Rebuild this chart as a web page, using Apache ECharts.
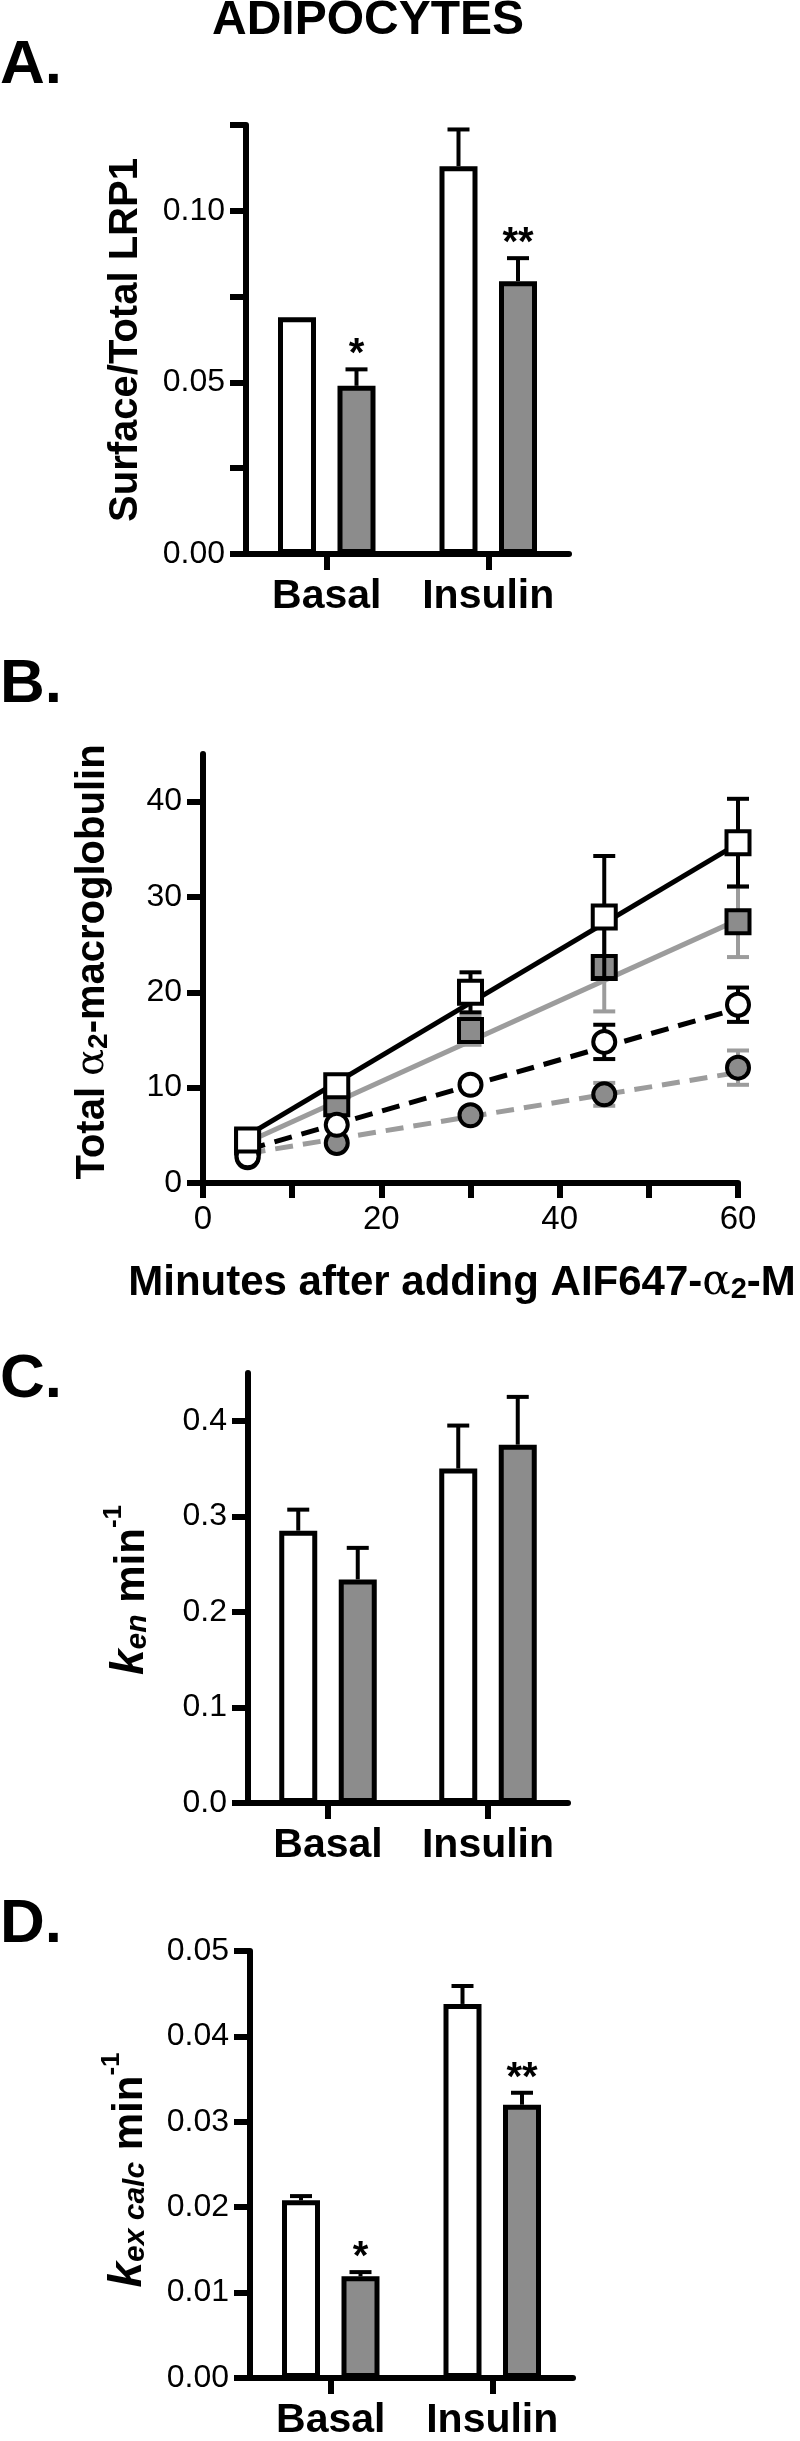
<!DOCTYPE html>
<html><head><meta charset="utf-8">
<script src="https://cdn.jsdelivr.net/npm/echarts@6/dist/echarts.min.js"></script>
<style>html,body{margin:0;padding:0;background:#fff}#c{width:800px;height:2441px}</style>
</head><body><div id="c"></div>
<script>
// ---------- DATA ----------
const categories = ['Basal', 'Insulin'];

// Panel A: Surface/Total LRP1
const aControl = [0.069, 0.113];
const aControlErr = [0, 0.0107];
const aTreated = [0.0490, 0.0795];
const aTreatedErr = [0.0048, 0.0067];
const aStars = ['*', '**'];
const aTicks = [0, 0.025, 0.05, 0.075, 0.1, 0.125];
const aLabels = [0, 0.05, 0.1];

// Panel B: Total alpha2-macroglobulin vs minutes
const minutes = [5, 15, 30, 45, 60];
const insCtrl = [4.5, 10.2, 20.0, 27.9, 35.7];
const insCtrlErr = [0.5, 0.6, 2.1, 6.4, 4.6];
const insTreat = [4.3, 8.3, 16.0, 22.6, 27.4];
const insTreatErr = [0.5, 0.8, 1.5, 4.6, 3.7];
const basCtrl = [2.8, 6.1, 10.3, 14.8, 18.7];
const basCtrlErr = [0.3, 0.4, 0.5, 1.8, 1.8];
const basTreat = [2.7, 4.2, 7.1, 9.3, 12.1];
const basTreatErr = [0.3, 0.3, 0.4, 1.2, 1.8];
const fitInsCtrl = [[5, 5.0], [60, 35.6]];
const fitInsTreat = [[5, 4.3], [60, 27.6]];
const fitBasCtrl = [[5, 3.5], [60, 18.3]];
const fitBasTreat = [[5, 3.1], [60, 11.6]];
const bYTicks = [0, 10, 20, 30, 40];
const bXTicks = [0, 10, 20, 30, 40, 50, 60];
const bXLabels = [0, 20, 40, 60];

// Panel C: k_en
const cControl = [0.285, 0.350];
const cControlErr = [0.022, 0.045];
const cTreated = [0.234, 0.375];
const cTreatedErr = [0.033, 0.050];
const cTicks = [0, 0.1, 0.2, 0.3, 0.4];

// Panel D: k_ex calc
const dControl = [0.0208, 0.0438];
const dControlErr = [0.0005, 0.0021];
const dTreated = [0.0119, 0.0320];
const dTreatedErr = [0.0005, 0.0014];
const dStars = ['*', '**'];
const dTicks = [0, 0.01, 0.02, 0.03, 0.04, 0.05];

// ---------- STYLE ----------
const FONT = "'Liberation Sans', Arial, Helvetica, sans-serif";
const GRAY_FILL = '#8c8c8c';
const GRAY_LINE = '#9c9c9c';
const BAR_W = 38, BAR_GAP_PX = 21.5;
const BAR_OFFSET = (BAR_W + BAR_GAP_PX) / 2;
const AXW = 6;

const chart = echarts.init(document.getElementById('c'), null, {renderer: 'canvas'});

function yAxisCfg(gi, max, ticks, labels, fmt) {
  return {
    gridIndex: gi, type: 'value', min: 0, max: max,
    axisLine: {show: true, onZero: false, lineStyle: {color: '#000', width: AXW}},
    axisTick: {show: true, length: 16, customValues: ticks, lineStyle: {color: '#000', width: AXW}},
    axisLabel: {show: true, margin: 21, customValues: labels, formatter: fmt,
      color: '#000', fontFamily: FONT, fontSize: 32},
    splitLine: {show: false}
  };
}
function catAxisCfg(gi) {
  return {
    gridIndex: gi, type: 'category', data: categories,
    axisLine: {show: true, onZero: false, lineStyle: {color: '#000', width: AXW}},
    axisTick: {show: true, interval: 0, alignWithLabel: true, length: 16, lineStyle: {color: '#000', width: AXW}},
    axisLabel: {interval: 0, hideOverlap: false, margin: 22, color: '#000', fontFamily: FONT, fontSize: 41, fontWeight: 'bold'},
    splitLine: {show: false}
  };
}
function barSeries(gi, data, fill) {
  return {type: 'bar', xAxisIndex: gi, yAxisIndex: gi, data: data, barWidth: BAR_W,
    barGap: (BAR_GAP_PX / BAR_W * 100) + '%',
    itemStyle: {color: fill, borderColor: '#000', borderWidth: 5}, z: 2, animation: false};
}
function barErrSeries(gi, means, errs, side, stars) {
  return {
    type: 'custom', xAxisIndex: gi, yAxisIndex: gi, z: 4, animation: false,
    data: means.map((m, i) => [i, m, errs[i]]),
    renderItem: function (params, api) {
      const c = api.value(0), m = api.value(1), e = api.value(2);
      const p0 = api.coord([c, m]);
      const p1 = api.coord([c, m + e]);
      const x = p0[0] + side * BAR_OFFSET;
      const ch = [];
      if (e > 0) {
        ch.push({type: 'line', shape: {x1: x, y1: p0[1], x2: x, y2: p1[1]}, style: {stroke: '#000', lineWidth: 4}});
        ch.push({type: 'line', shape: {x1: x - 11, y1: p1[1], x2: x + 11, y2: p1[1]}, style: {stroke: '#000', lineWidth: 4}});
      }
      const s = stars ? stars[params.dataIndex] : '';
      if (s) {
        ch.push({type: 'text', x: x, y: p1[1] + 6, style: {text: s, fill: '#000',
          font: 'bold 40px ' + FONT, align: 'center', verticalAlign: 'bottom',
          textAlign: 'center', textVerticalAlign: 'bottom'}});
      }
      return {type: 'group', children: ch};
    }
  };
}
function ptErrSeries(gi, xs, ys, errs, color, z) {
  return {
    type: 'custom', xAxisIndex: gi, yAxisIndex: gi, z: z, animation: false,
    data: xs.map((x, i) => [x, ys[i], errs[i]]),
    renderItem: function (params, api) {
      const x = api.value(0), y = api.value(1), e = api.value(2);
      const pt = api.coord([x, y + e]);
      const pb = api.coord([x, y - e]);
      const st = {stroke: color, lineWidth: 4};
      return {type: 'group', children: [
        {type: 'line', shape: {x1: pt[0], y1: pt[1], x2: pb[0], y2: pb[1]}, style: st},
        {type: 'line', shape: {x1: pt[0] - 11, y1: pt[1], x2: pt[0] + 11, y2: pt[1]}, style: st},
        {type: 'line', shape: {x1: pb[0] - 11, y1: pb[1], x2: pb[0] + 11, y2: pb[1]}, style: st}
      ]};
    }
  };
}
function fitSeries(data, color, dashed, z) {
  return {type: 'line', xAxisIndex: 1, yAxisIndex: 1, data: data, showSymbol: false, symbol: 'none',
    lineStyle: {color: color, width: 5, type: dashed ? [18, 10] : 'solid'}, z: z, animation: false, silent: true};
}
function markerSeries(xs, ys, symbol, fill, size, z) {
  return {type: 'scatter', xAxisIndex: 1, yAxisIndex: 1, data: xs.map((x, i) => [x, ys[i]]),
    symbol: symbol, symbolSize: size,
    itemStyle: {color: fill, borderColor: '#000', borderWidth: 4, opacity: 1}, z: z, animation: false};
}

const boldTxt = (txt, x, y, size, extra) => Object.assign({
  type: 'text', x: x, y: y, silent: true,
  style: {text: txt, fill: '#000', font: 'bold ' + size + 'px ' + FONT,
    textAlign: 'center', textVerticalAlign: 'middle', align: 'center', verticalAlign: 'middle'}
}, extra || {});
const letter = (txt, y) => ({type: 'text', x: 0, y: y, silent: true,
  style: {text: txt, fill: '#000', font: 'bold 62px ' + FONT, textAlign: 'left', align: 'left',
    textVerticalAlign: 'middle', verticalAlign: 'middle'}});

function richTitle(text, rich, x, y) {
  return {type: 'text', x: x, y: y, rotation: Math.PI / 2, silent: true,
    style: {text: text, rich: rich, fill: '#000', font: 'bold 40px ' + FONT,
      textAlign: 'center', textVerticalAlign: 'middle', align: 'center', verticalAlign: 'middle'}};
}
const kRich = {
  k: {fontFamily: FONT, fontWeight: 'bold', fontStyle: 'italic', fontSize: 46, lineHeight: 52, verticalAlign: 'bottom'},
  sub: {fontFamily: FONT, fontWeight: 'bold', fontStyle: 'italic', fontSize: 30, lineHeight: 30, verticalAlign: 'bottom'},
  m: {fontFamily: FONT, fontWeight: 'bold', fontSize: 42, lineHeight: 52, verticalAlign: 'bottom'},
  sup: {fontFamily: FONT, fontWeight: 'bold', fontSize: 26, lineHeight: 26, verticalAlign: 'top'}
};
const bRich = {
  b: {fontFamily: FONT, fontWeight: 'bold', fontSize: 40, lineHeight: 46, verticalAlign: 'bottom'},
  al: {fontFamily: "'DejaVu Serif', 'Liberation Serif', serif", fontSize: 40, lineHeight: 46, verticalAlign: 'bottom'},
  s: {fontFamily: FONT, fontWeight: 'bold', fontSize: 28, lineHeight: 28, verticalAlign: 'bottom'}
};

const option = {
  animation: false,
  backgroundColor: '#fff',
  grid: [
    {left: 246, top: 125, width: 323, height: 429},
    {left: 203, top: 754, width: 535, height: 429},
    {left: 248, top: 1373, width: 320, height: 430},
    {left: 250, top: 1951, width: 323, height: 428}
  ],
  xAxis: [
    catAxisCfg(0),
    {gridIndex: 1, type: 'value', min: 0, max: 60,
      axisLine: {show: true, onZero: false, lineStyle: {color: '#000', width: AXW}},
      axisTick: {show: true, length: 15, customValues: bXTicks, lineStyle: {color: '#000', width: AXW}},
      axisLabel: {margin: 20, customValues: bXLabels, color: '#000', fontFamily: FONT, fontSize: 33},
      splitLine: {show: false}},
    catAxisCfg(2),
    catAxisCfg(3)
  ],
  yAxis: [
    yAxisCfg(0, 0.125, aTicks, aLabels, v => v.toFixed(2)),
    yAxisCfg(1, 45, bYTicks, bYTicks, v => String(v)),
    yAxisCfg(2, 0.45, cTicks, cTicks, v => v.toFixed(1)),
    yAxisCfg(3, 0.05, dTicks, dTicks, v => v.toFixed(2))
  ],
  series: [
    barSeries(0, aControl, '#fff'), barSeries(0, aTreated, GRAY_FILL),
    barErrSeries(0, aControl, aControlErr, -1, null),
    barErrSeries(0, aTreated, aTreatedErr, 1, aStars),

    // gray lines, then black lines
    fitSeries(fitBasTreat, GRAY_LINE, true, 2),
    fitSeries(fitInsTreat, GRAY_LINE, false, 3),
    fitSeries(fitBasCtrl, '#000', true, 4),
    fitSeries(fitInsCtrl, '#000', false, 5),
    // gray circle, gray square, white circle, white square
    ptErrSeries(1, minutes, basTreat, basTreatErr, GRAY_LINE, 6),
    markerSeries(minutes, basTreat, 'circle', GRAY_FILL, 22, 7),
    ptErrSeries(1, minutes, insTreat, insTreatErr, GRAY_LINE, 8),
    markerSeries(minutes, insTreat, 'rect', GRAY_FILL, 23, 9),
    ptErrSeries(1, minutes, basCtrl, basCtrlErr, '#000', 10),
    markerSeries(minutes, basCtrl, 'circle', '#fff', 22, 11),
    ptErrSeries(1, minutes, insCtrl, insCtrlErr, '#000', 12),
    markerSeries(minutes, insCtrl, 'rect', '#fff', 23, 13),

    barSeries(2, cControl, '#fff'), barSeries(2, cTreated, GRAY_FILL),
    barErrSeries(2, cControl, cControlErr, -1, null),
    barErrSeries(2, cTreated, cTreatedErr, 1, null),

    barSeries(3, dControl, '#fff'), barSeries(3, dTreated, GRAY_FILL),
    barErrSeries(3, dControl, dControlErr, -1, null),
    barErrSeries(3, dTreated, dTreatedErr, 1, dStars)
  ],
  graphic: [
    boldTxt('ADIPOCYTES', 368, 21, 48),
    letter('A.', 66), letter('B.', 685), letter('C.', 1380), letter('D.', 1925),
    boldTxt('Surface/Total LRP1', 126, 340, 40, {rotation: Math.PI / 2}),
    richTitle('{b|Total }{al|α}{s|2}{b|-macroglobulin}', bRich, 90, 962),
    richTitle('{k|k}{sub|en}{m| min}{sup|-1}', kRich, 127, 1590),
    richTitle('{k|k}{sub|ex calc}{m| min}{sup|-1}', kRich, 125, 2170),
    {type: 'text', x: 462, y: 1280, silent: true,
      style: {text: '{b|Minutes after adding AIF647-}{al|α}{s|2}{b|-M}', rich: {
        b: {fontFamily: FONT, fontWeight: 'bold', fontSize: 42, lineHeight: 48, verticalAlign: 'bottom'},
        al: {fontFamily: "'DejaVu Serif', 'Liberation Serif', serif", fontSize: 42, lineHeight: 48, verticalAlign: 'bottom'},
        s: {fontFamily: FONT, fontWeight: 'bold', fontSize: 29, lineHeight: 29, verticalAlign: 'bottom'}
      }, fill: '#000', textAlign: 'center', align: 'center', textVerticalAlign: 'middle', verticalAlign: 'middle'}}
  ]
};
chart.setOption(option);
</script>
</body></html>
